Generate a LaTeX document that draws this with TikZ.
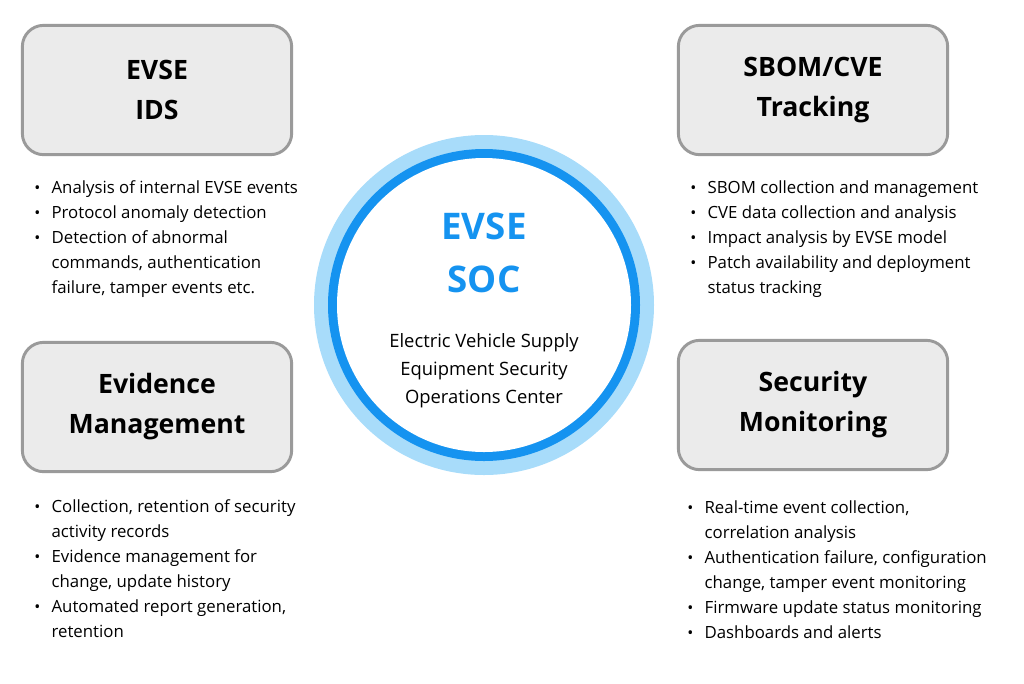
\documentclass[tikz,border=0pt]{standalone}
\usepackage{fontspec}
\setmainfont{Open Sans}
\definecolor{boxfill}{HTML}{EBEBEB}
\definecolor{boxline}{HTML}{9A9A9A}
\definecolor{ringlight}{HTML}{A8DCFA}
\definecolor{ringdark}{HTML}{1593F0}
\definecolor{soc}{HTML}{1593F0}
\begin{document}
\begin{tikzpicture}[x=0.75pt,y=-0.75pt,
  box/.style={draw=boxline,line width=2.2pt,fill=boxfill,rounded corners=16pt,minimum width=202pt,minimum height=97pt,align=center,font=\fontsize{20}{30}\selectfont\bfseries},
  bl/.style={anchor=north west,inner sep=0pt,align=left,font=\fontsize{12.6}{18.75}\selectfont}]
\useasboundingbox (0,0) rectangle (1024,683);
\newcommand{\itm}[1]{\makebox[13pt][l]{\large\textbullet}#1\\}
\newcommand{\cnt}[1]{\hspace*{13pt}#1\\}
\node[box] (ids) at (157,90) {EVSE\\IDS};
\node[box] (sbom) at (813,90) {SBOM/CVE\\Tracking};
\node[box] (evid) at (157,407) {Evidence\\Management};
\node[box] (mon) at (813,405) {Security\\Monitoring};
\fill[ringlight] (484,305) circle (170);
\fill[ringdark] (484,305) circle (156);
\fill[white] (484,305) circle (147);
\node[font=\fontsize{27.5}{40}\selectfont\bfseries,text=soc,align=center] (soc) at (484,253) {EVSE\\SOC};
\node[font=\fontsize{13.8}{21}\selectfont,align=center] (sub) at (484,371) {Electric Vehicle Supply\\Equipment Security\\Operations Center};
\node[bl] (b1) at (34,180) {\itm{Analysis of internal EVSE events}\itm{Protocol anomaly detection}\itm{Detection of abnormal}\cnt{commands, authentication}\cnt{failure, tamper events etc.}};
\node[bl] (b2) at (690,180) {\itm{SBOM collection and management}\itm{CVE data collection and analysis}\itm{Impact analysis by EVSE model}\itm{Patch availability and deployment}\cnt{status tracking}};
\node[bl] (b3) at (34,499) {\itm{Collection, retention of security}\cnt{activity records}\itm{Evidence management for}\cnt{change, update history}\itm{Automated report generation,}\cnt{retention}};
\node[bl] (b4) at (687,500) {\itm{Real-time event collection,}\cnt{correlation analysis}\itm{Authentication failure, configuration}\cnt{change, tamper event monitoring}\itm{Firmware update status monitoring}\itm{Dashboards and alerts}};
\end{tikzpicture}
\end{document}
